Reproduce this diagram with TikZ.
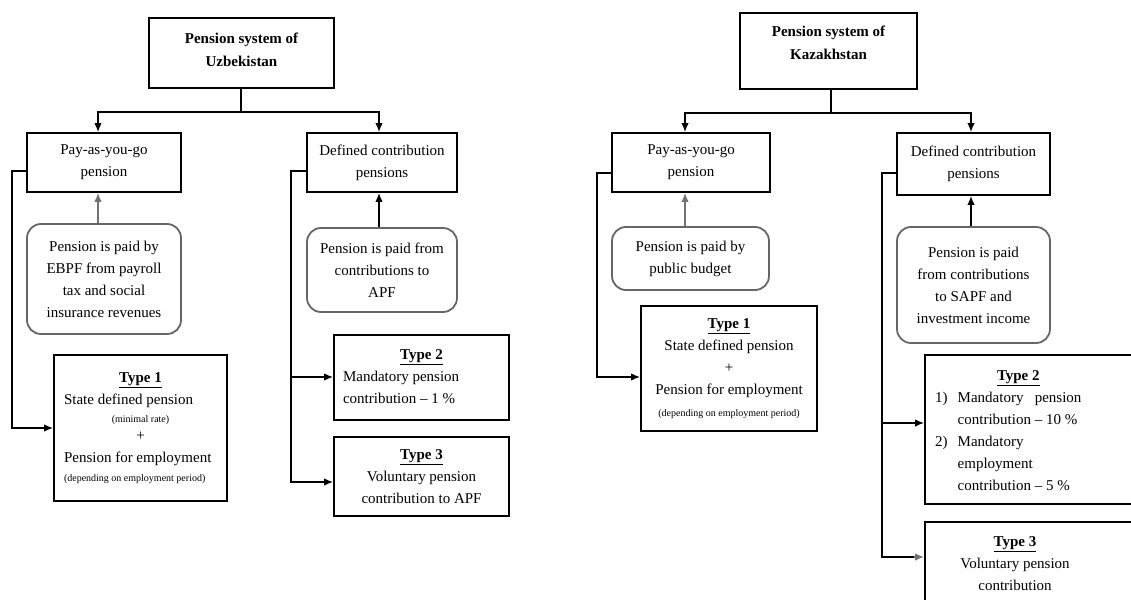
\documentclass[tikz,border=0pt]{standalone}
\usepackage{fontspec}
\setmainfont{Liberation Serif}
\usetikzlibrary{arrows.meta}
\begin{document}
\begin{tikzpicture}[x=1pt,y=-1pt,
  font=\fontsize{15}{22}\selectfont,
  box/.style={draw, line width=1.8pt, inner sep=0pt, align=center},
  rbox/.style={draw=black!60, line width=1.8pt, rounded corners=14pt, inner sep=0pt, align=center},
  titlebox/.style={box, line width=2.2pt},
  titletext/.style={inner sep=0pt, align=center, font=\fontsize{15}{23}\selectfont\bfseries},
  lbl/.style={inner sep=0pt, align=center},
  conn/.style={line width=1.6pt},
  arr/.style={conn, -{Latex[length=9pt,width=7.5pt]}},
  garr/.style={arr, draw=black!55}]
\useasboundingbox (0,0) rectangle (1131,599);
\clip (0,0) rectangle (1131,599);

% ---------------- Uzbekistan ----------------
\node[titlebox, minimum width=185pt, minimum height=70pt] (uz) at (241.5,53) {};
\node[titletext] (uzlbl) at (241.5,50) {Pension system of\\Uzbekistan};
\node[box, minimum width=154pt, minimum height=59pt] (uzp) at (104,162.5) {Pay-as-you-go\\pension};
\node[box, minimum width=150pt, minimum height=59pt] (uzd) at (382,162.5) {Defined contribution\\pensions};
\node[rbox, minimum width=154pt, minimum height=110pt] (uzpr) at (104,279) {Pension is paid by\\EBPF from payroll\\tax and social\\insurance revenues};
\node[rbox, minimum width=150pt, minimum height=84pt] (uzdr) at (382,270) {Pension is paid from\\contributions to\\APF};
\node[box, minimum width=173pt, minimum height=146pt] (uzt1) at (140.5,428) {\begin{tabular}{@{}p{153pt}@{}}
\multicolumn{1}{@{}c@{}}{\textbf{\underline{Type 1}}}\\
State defined pension\\[-4pt]
\multicolumn{1}{@{}c@{}}{\fontsize{10}{12}\selectfont (minimal rate)}\\[-4pt]
\multicolumn{1}{@{}c@{}}{+}\\
Pension for employment\\[-3pt]
{\fontsize{10}{12}\selectfont (depending on employment period)}
\end{tabular}};
\node[box, minimum width=175pt, minimum height=85pt] (uzt2) at (421.5,377.5) {\begin{tabular}{@{}p{157pt}@{}}
\multicolumn{1}{@{}c@{}}{\textbf{\underline{Type 2}}}\\
Mandatory pension\\
contribution -- 1 \%
\end{tabular}};
\node[box, minimum width=175pt, minimum height=79pt] (uzt3) at (421.5,476.5) {\textbf{\underline{Type 3}}\\Voluntary pension\\contribution to APF};

\coordinate (uzj) at (241,112);
\draw[conn] (uzj |- uz.south) -- (uzj);
\draw[arr] (uzj) -| ([xshift=-6pt]uzp.north);
\draw[arr] (uzj) -| ([xshift=-3pt]uzd.north);
\draw[garr] ([xshift=-6pt]uzpr.north) -- ([xshift=-6pt]uzp.south);
\draw[arr] ([xshift=-3pt]uzdr.north) -- ([xshift=-3pt]uzd.south);
\draw[arr] ([yshift=-8.5pt]uzp.west) -- ++(-14,0) |- (uzt1.west);
\draw[arr] ([yshift=-8.5pt]uzd.west) -- ++(-15,0) |- ([yshift=0.5pt]uzt2.west);
\draw[arr] ([yshift=-8.5pt]uzd.west) -- ++(-15,0) |- ([yshift=-5.5pt]uzt3.west);

% ---------------- Kazakhstan ----------------
\node[titlebox, minimum width=177pt, minimum height=76pt] (kz) at (828.5,51) {};
\node[titletext] (kzlbl) at (828.5,43) {Pension system of\\Kazakhstan};
\node[box, minimum width=158pt, minimum height=59pt] (kzp) at (691,162.5) {Pay-as-you-go\\pension};
\node[box, minimum width=153pt, minimum height=62pt] (kzd) at (973.5,164) {Defined contribution\\pensions};
\node[rbox, minimum width=157pt, minimum height=63pt] (kzpr) at (690.5,258.5) {Pension is paid by\\public budget};
\node[rbox, minimum width=153pt, minimum height=116pt] (kzdr) at (973.5,285) {Pension is paid\\from contributions\\to SAPF and\\investment income};
\node[box, minimum width=176pt, minimum height=125pt] (kzt1) at (729,368.5) {\textbf{\underline{Type 1}}\\State defined pension\\+\\Pension for employment\\{\fontsize{10}{12}\selectfont (depending on employment period)}};
\node[box, minimum width=220pt, minimum height=149pt] (kzt2) at (1035,429.5) {};
\node[lbl, anchor=west] (kzt2lbl) at (935,431) {\begin{tabular}{@{}l@{\hspace{10pt}}l@{}}
\multicolumn{2}{@{}c@{}}{\hspace*{20pt}\textbf{\underline{Type 2}}}\\
1) & Mandatory\ \ \ pension\\
   & contribution -- 10 \%\\
2) & Mandatory\\
   & employment\\
   & contribution -- 5 \%
\end{tabular}};
\node[box, minimum width=220pt, minimum height=118pt] (kzt3) at (1035,581) {};
\node[lbl] (kzt3lbl) at (1015,563.5) {\textbf{\underline{Type 3}}\\Voluntary pension\\contribution};

\coordinate (kzj) at (831,113);
\coordinate (kzv) at (882,173);
\draw[conn] (kzj |- kz.south) -- (kzj);
\draw[arr] (kzj) -| ([xshift=-6pt]kzp.north);
\draw[arr] (kzj) -| ([xshift=-2.5pt]kzd.north);
\draw[garr] ([xshift=-5.5pt]kzpr.north) -- ([xshift=-5.5pt]kzpr.north |- kzp.south);
\draw[arr] ([xshift=-2.5pt]kzdr.north) -- ([xshift=-2.5pt]kzd.south);
\draw[arr] ([yshift=-10.5pt]kzp.west) -- ++(-14,0) |- ([yshift=-8.5pt]kzt1.west);
\draw[arr] ([yshift=-9pt]kzd.west) -- (kzv) |- ([yshift=6.5pt]kzt2.west);
\draw[conn] (kzv) |- ([xshift=-10pt,yshift=24pt]kzt3.west);
\draw[garr] ([xshift=-10pt,yshift=24pt]kzt3.west) -- ([yshift=24pt]kzt3.west);
\end{tikzpicture}
\end{document}
